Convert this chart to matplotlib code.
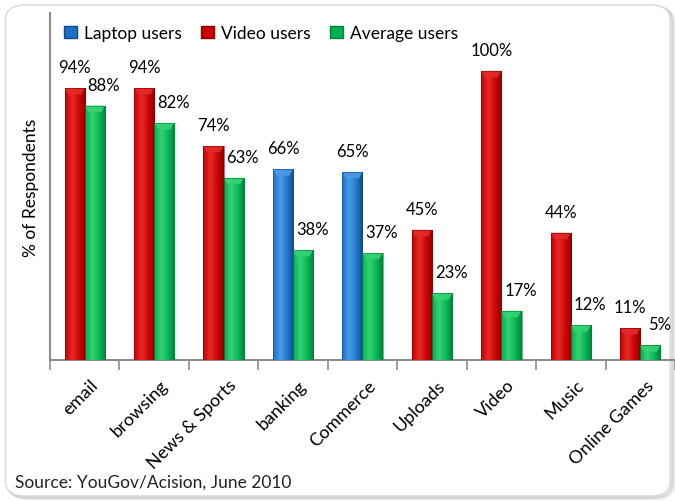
import numpy as np
import matplotlib.pyplot as plt
import matplotlib.transforms as mtransforms
from matplotlib.colors import LinearSegmentedColormap
from matplotlib.patches import FancyBboxPatch, Polygon, Patch

plt.rcParams['font.family'] = ['Lato', 'DejaVu Sans']

categories = ["email", "browsing", "News & Sports", "banking", "Commerce",
              "Uploads", "Video", "Music", "Online Games"]
# first bar of each group: which segment it belongs to
first_series = ["Video", "Video", "Video", "Laptop", "Laptop",
                "Video", "Video", "Video", "Video"]
first_values = [94, 94, 74, 66, 65, 45, 100, 44, 11]
average_values = [88, 82, 63, 38, 37, 23, 17, 12, 5]

palette = {
    "Laptop": ("#1f6fc6", "#4a9be6", "#12498a"),
    "Video": ("#c80000", "#e42a2a", "#8c0000"),
    "Average": ("#00b050", "#35d374", "#00803a"),
}


def shade_bar(ax, rect, key):
    base, light, dark = palette[key]
    cmap = LinearSegmentedColormap.from_list(
        key, [(0, base), (0.35, light), (0.75, base), (1, dark)])
    x0, w, h = rect.get_x(), rect.get_width(), rect.get_height()
    grad = np.linspace(0, 1, 64)[None, :]
    im = ax.imshow(grad, cmap=cmap, aspect='auto', extent=(x0, x0 + w, 0, h),
                   zorder=3, interpolation='bicubic')
    im.set_clip_path(rect)
    # bevel on the top face
    d = min(2.2, h * 0.5)
    bevel = Polygon([(x0, h), (x0 + w, h), (x0 + w * 0.82, h - d), (x0 + w * 0.18, h - d)],
                    closed=True, facecolor=light, edgecolor='none', alpha=0.9, zorder=4)
    ax.add_patch(bevel)
    rect.set_facecolor('none')
    rect.set_edgecolor(dark)
    rect.set_linewidth(0.4)
    rect.set_zorder(5)


fig = plt.figure(figsize=(6.75, 5.02), dpi=100)

# rounded frame with a soft shadow
for off, a in [(0.006, 0.10), (0.004, 0.15), (0.002, 0.2)]:
    fig.patches.append(FancyBboxPatch((0.008 + off, 0.01 - off), 0.985, 0.978,
                                      boxstyle="round,pad=0,rounding_size=0.03",
                                      transform=fig.transFigure, facecolor='none',
                                      edgecolor='#808080', alpha=a, linewidth=2,
                                      zorder=-2))
fig.patches.append(FancyBboxPatch((0.008, 0.01), 0.985, 0.978,
                                  boxstyle="round,pad=0,rounding_size=0.03",
                                  transform=fig.transFigure, facecolor='white',
                                  edgecolor='#d9d9d9', linewidth=1.0, zorder=-1))

ax = fig.add_axes([0.074, 0.281, 0.926, 0.691])
ax.set_facecolor('none')

x = np.arange(len(categories))
bw = 0.29
first_bars = ax.bar(x - bw / 2, first_values, bw, color='none', zorder=3)
avg_bars = ax.bar(x + bw / 2, average_values, bw, color='none', zorder=3)

for rect, key, v in zip(first_bars, first_series, first_values):
    shade_bar(ax, rect, key)
    ax.text(rect.get_x() + rect.get_width() / 2, v + 4.5, f"{v}%",
            ha='center', va='bottom', fontsize=12, color='black')
for rect, v in zip(avg_bars, average_values):
    shade_bar(ax, rect, "Average")
    ax.text(rect.get_x() + rect.get_width() / 2 + 0.13, v + 4.5, f"{v}%",
            ha='center', va='bottom', fontsize=12, color='black')

ax.set_xlim(-0.5, len(categories) - 0.5)
ax.set_ylim(0, 120)
ax.set_yticks([])
for s in ['top', 'right']:
    ax.spines[s].set_visible(False)
for s in ['left', 'bottom']:
    ax.spines[s].set_color('#8c8c8c')
    ax.spines[s].set_linewidth(1.5)

ax.set_xticks(x)
ax.set_xticklabels(categories, rotation=45, ha='right', rotation_mode='anchor',
                   fontsize=13)
ax.tick_params(axis='x', which='major', length=0, pad=12)
shift = mtransforms.ScaledTranslation(5 / 100, 0, fig.dpi_scale_trans)
for lbl in ax.get_xticklabels():
    lbl.set_transform(lbl.get_transform() + shift)
ax.set_xticks(np.arange(len(categories) + 1) - 0.5, minor=True)
ax.tick_params(axis='x', which='minor', length=7, width=1.2, color='#8c8c8c')

ax.set_ylabel("% of Respondents", fontsize=12.5, labelpad=8)

handles = [Patch(facecolor=palette[k][0], edgecolor=palette[k][2], label=l)
           for k, l in [("Laptop", "Laptop users"), ("Video", "Video users"),
                        ("Average", "Average users")]]
ax.legend(handles=handles, loc='upper left', bbox_to_anchor=(0.085, 0.962),
          bbox_transform=fig.transFigure, ncol=3, frameon=False, fontsize=12.5,
          handlelength=0.75, handleheight=0.75, handletextpad=0.4,
          columnspacing=1.1, borderaxespad=0)

fig.text(0.022, 0.038, "Source: YouGov/Acision, June 2010", fontsize=12.5,
         color='#222222', ha='left', va='center')

fig.savefig("out.png", dpi=100)
